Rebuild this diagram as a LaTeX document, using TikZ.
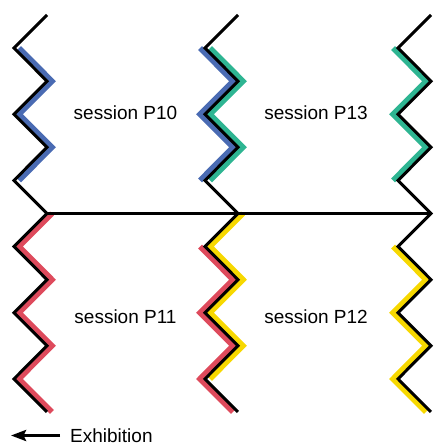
\documentclass[tikz,border=0pt]{standalone}
\usepackage{fontspec}
\setmainfont{Liberation Sans}
\usetikzlibrary{arrows.meta}
\definecolor{zblue}{HTML}{4A6BB3}
\definecolor{zgreen}{HTML}{2EB592}
\definecolor{zred}{HTML}{DE4A5C}
\definecolor{zyellow}{HTML}{F7D800}
\tikzset{
  blk/.style={line width=3pt, line join=miter, black},
  band/.style={line width=5.5pt, line join=miter},
  lbl/.style={font=\fontsize{19}{22}\selectfont, inner sep=0pt, anchor=base}
}
\begin{document}
\begin{tikzpicture}[x=1pt,y=-1pt]
\useasboundingbox (0,0) rectangle (434,446);
% zigzag vertices
\foreach \c/\L/\R in {a/14/47,b/205/238,c/398/431}{
  \foreach \k in {0,...,12}{
    \pgfmathsetmacro\xx{mod(\k,2)==0 ? \R : \L}
    \coordinate (\c\k) at (\xx, 15+\k*33.08);
  }
}
% coloured bands (behind)
\draw[band,zblue]   ([xshift=5pt]a1) \foreach \k in {2,...,5}{ -- ([xshift=5pt]a\k) };
\draw[band,zblue]   ([xshift=-5pt]b1) \foreach \k in {2,...,5}{ -- ([xshift=-5pt]b\k) };
\draw[band,zgreen]  ([xshift=5pt]b1) \foreach \k in {2,...,5}{ -- ([xshift=5pt]b\k) };
\draw[band,zgreen]  ([xshift=-5pt]c1) \foreach \k in {2,...,5}{ -- ([xshift=-5pt]c\k) };
\draw[band,zred]    ([xshift=5pt]a6) \foreach \k in {7,...,12}{ -- ([xshift=5pt]a\k) };
\draw[band,zyellow] ([xshift=5pt]b6) \foreach \k in {7,...,11}{ -- ([xshift=5pt]b\k) };
\draw[band,zred]    ([xshift=-5pt]b7) \foreach \k in {8,...,12}{ -- ([xshift=-5pt]b\k) };
\draw[band,zyellow] ([xshift=-5pt]c7) \foreach \k in {8,...,12}{ -- ([xshift=-5pt]c\k) };
% black zigzags
\foreach \c in {a,b,c}{
  \draw[blk] (\c0) \foreach \k in {1,...,12}{ -- (\c\k) };
}
% horizontal line
\draw[blk] (a6) -- (c6);
% labels
\node[lbl] (p10) at (125.5,119.3) {session P10};
\node[lbl] (p13) at (316,119.3) {session P13};
\node[lbl] (p11) at (125.5,323.3) {session P11};
\node[lbl] (p12) at (316,323.3) {session P12};
% exhibition arrow
\coordinate (e1) at (60,435.5);
\coordinate (e0) at (11,435.5);
\draw[line width=3pt,-{Stealth[length=15pt,width=11pt,inset=2.5pt]}] (e1) -- (e0);
\node[lbl,anchor=base west] (ex) at (70,442.5) {Exhibition};
\end{tikzpicture}
\end{document}
